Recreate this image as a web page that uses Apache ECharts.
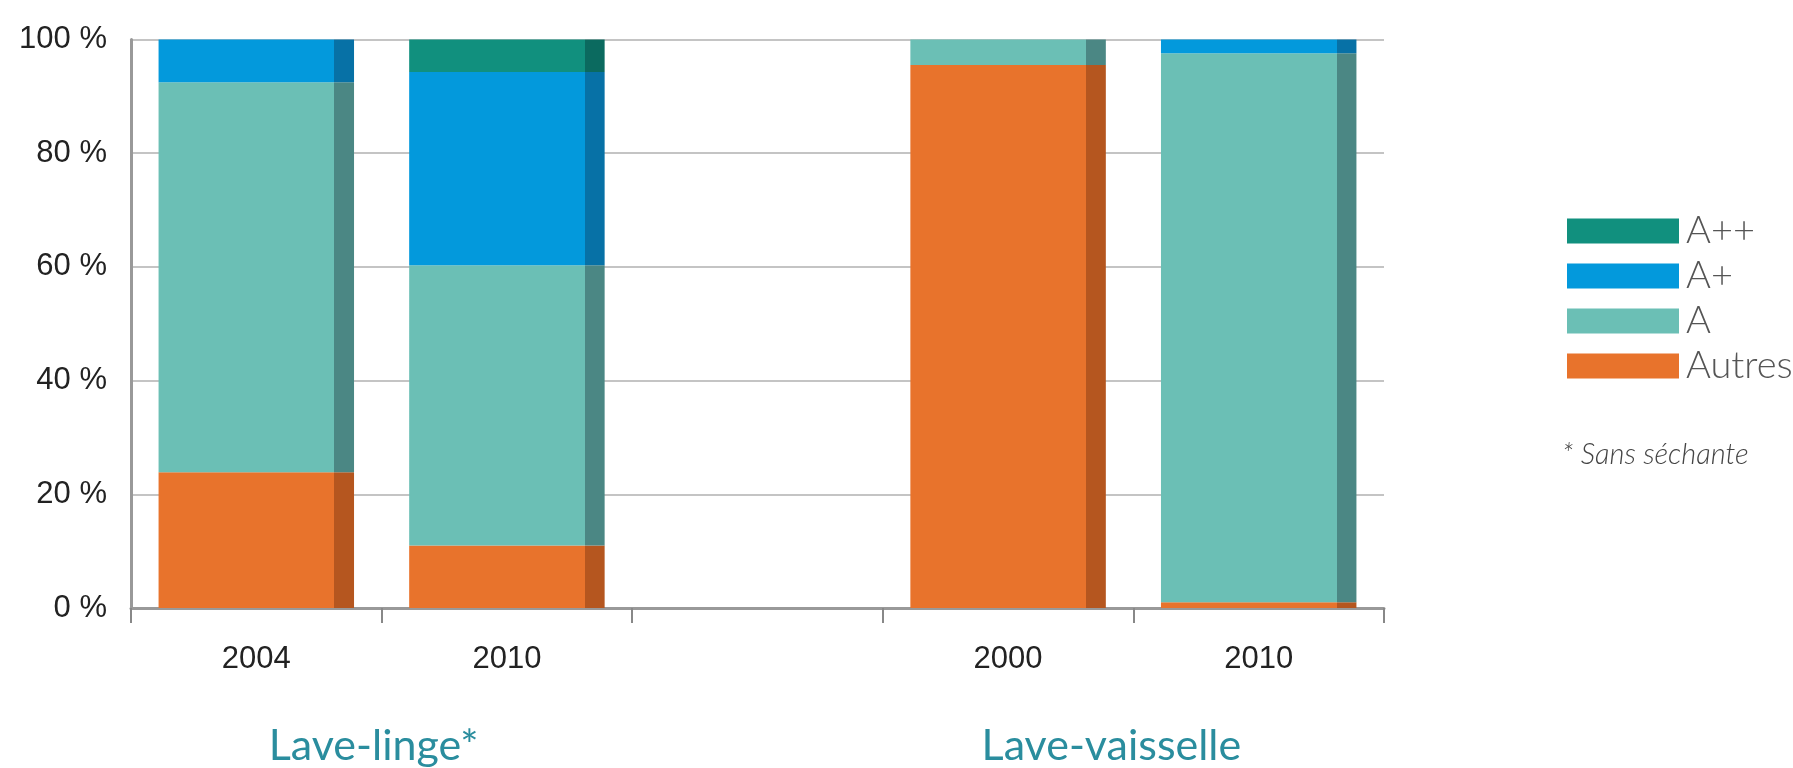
<!DOCTYPE html>
<html>
<head>
<meta charset="utf-8">
<script src="https://cdn.jsdelivr.net/npm/echarts@6/dist/echarts.min.js"></script>
<style>
html,body{margin:0;padding:0;background:#fff;}
#chart{width:1793px;height:768px;}
</style>
</head>
<body>
<div id="chart"></div>
<script>
// ---- data ----
const categories = ['2004', '2010', '', '2000', '2010'];
const groupLabels = ['', 'Lave-linge*', '', '', 'Lave-vaisselle', ''];
const seriesNames = ['Autres', 'A', 'A+', 'A++'];
const autres = [23.9, 11.0, '-', 95.5, 1.0];
const classA = [68.6, 49.3, '-', 4.5, 96.6];
const classAPlus = [7.5, 34.0, '-', 0, 2.4];
const classAPlusPlus = [0, 5.7, '-', 0, 0];
const yTicks = [0, 20, 40, 60, 80, 100];
const footnote = '* Sans séchante';

// ---- styles ----
const colors = {
  'Autres': ['#e8732c', '#b5561f'],
  'A': ['#6bbfb5', '#4b8784'],
  'A+': ['#0399dc', '#0771a6'],
  'A++': ['#11907e', '#0b6a5f']
};
function barColor(name) {
  const c = colors[name];
  return new echarts.graphic.LinearGradient(0, 0, 1, 0, [
    { offset: 0, color: c[0] },
    { offset: 0.9, color: c[0] },
    { offset: 0.9, color: c[1] },
    { offset: 1, color: c[1] }
  ]);
}
const values = { 'Autres': autres, 'A': classA, 'A+': classAPlus, 'A++': classAPlusPlus };

const chart = echarts.init(document.getElementById('chart'), null, { renderer: 'canvas' });
chart.setOption({
  animation: false,
  backgroundColor: '#ffffff',
  grid: { left: 131, right: 409, top: 39.5, bottom: 160, containLabel: false },
  legend: {
    orient: 'vertical',
    left: 1562,
    top: 207,
    itemWidth: 112,
    itemHeight: 25,
    itemGap: 7,
    icon: 'rect',
    data: ['A++', 'A+', 'A', 'Autres'].map(n => ({ name: n, itemStyle: { color: colors[n][0] } })),
    textStyle: { fontFamily: 'Lato', fontWeight: 300, fontSize: 38, color: '#555', padding: [0, 0, 0, 2] },
    selectedMode: false
  },
  xAxis: [
    {
      type: 'category',
      data: categories,
      axisLine: { lineStyle: { color: '#999', width: 3 } },
      axisTick: { show: true, length: 15, lineStyle: { color: '#888', width: 2 } },
      axisLabel: { interval: 0, margin: 36, fontFamily: 'Liberation Sans', fontSize: 31, color: '#222' }
    },
    {
      type: 'category',
      data: groupLabels,
      boundaryGap: false,
      position: 'bottom',
      offset: 112,
      axisLine: { show: false },
      axisTick: { show: false },
      splitLine: { show: false },
      axisLabel: {
        interval: 0,
        margin: 5,
        fontFamily: 'Lato',
        fontSize: 43,
        color: '#2a8d9e',
        formatter: function (v) {
          if (v === 'Lave-linge*') return '{l|' + v + '}';
          if (v === 'Lave-vaisselle') return '{v|' + v + '}';
          return v;
        },
        rich: {
          l: { fontFamily: 'Lato', fontSize: 43, color: '#2a8d9e', padding: [0, 16, 0, 0] },
          v: { fontFamily: 'Lato', fontSize: 43, color: '#2a8d9e', padding: [0, 44, 0, 0] }
        }
      }
    }
  ],
  yAxis: {
    type: 'value',
    min: yTicks[0],
    max: yTicks[yTicks.length - 1],
    interval: 20,
    axisLine: { show: true, lineStyle: { color: '#999', width: 3 } },
    axisTick: { show: false },
    splitLine: { show: true, lineStyle: { color: '#c4c4c4', width: 2 } },
    axisLabel: { margin: 24, fontFamily: 'Liberation Sans', fontSize: 31, color: '#222', formatter: '{value} %' }
  },
  series: seriesNames.map(n => ({
    name: n,
    type: 'bar',
    stack: 'total',
    barCategoryGap: '22%',
    data: values[n],
    itemStyle: { color: barColor(n) },
    emphasis: { disabled: true }
  })),
  graphic: [
    {
      type: 'text',
      left: 1562,
      top: 440,
      style: { text: footnote, fontFamily: 'Lato', fontStyle: 'italic', fontWeight: 300, fontSize: 29, fill: '#444' }
    }
  ]
});
</script>
</body>
</html>
